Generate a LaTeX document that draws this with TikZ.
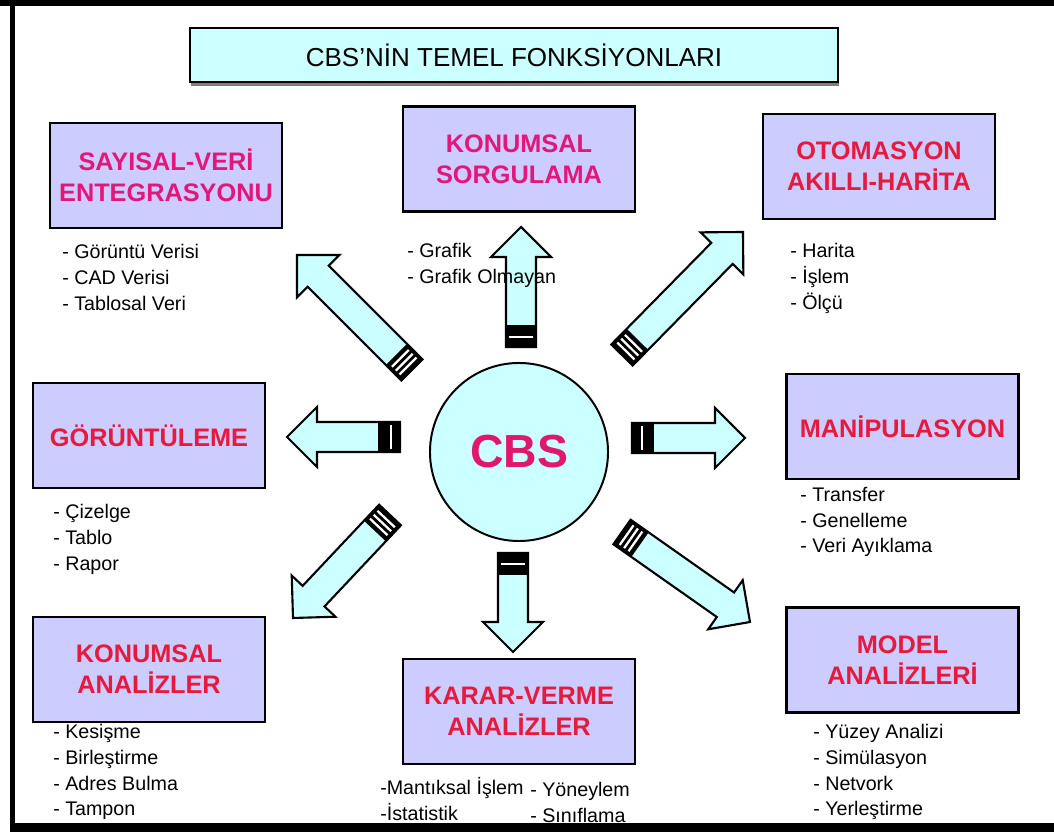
\documentclass[tikz,border=0pt]{standalone}
\usepackage{fontspec}
\setmainfont{Liberation Sans}
\usetikzlibrary{calc,shadows}
\definecolor{lilac}{HTML}{CCCCFF}
\definecolor{ice}{HTML}{CCFFFF}
\definecolor{magred}{HTML}{E3167A}
\definecolor{crimson}{HTML}{E6193F}
\definecolor{cbspink}{HTML}{E0186C}

% block arrow from tail #1 to tip #2, stripes of the cap at #3 (cm from tail)
\newcommand{\fatarrow}[3]{%
  \coordinate (#2-b) at ($(#2)!0.75cm!(#1)$);
  \coordinate (#1-s) at ($(#1)!0.55cm!(#2)$);
  \draw[arrowbody] ($(#1)!0.375cm!90:(#2)$) -- ($(#2-b)!0.375cm!90:(#2)$) -- ($(#2-b)!0.75cm!90:(#2)$) -- (#2)
    -- ($(#2-b)!0.75cm!-90:(#2)$) -- ($(#2-b)!0.375cm!-90:(#2)$) -- ($(#1)!0.375cm!-90:(#2)$) -- cycle;
  \fill ($(#1)!0.375cm!90:(#2)$) -- ($(#1-s)!0.375cm!90:(#2)$) -- ($(#1-s)!0.375cm!-90:(#2)$) -- ($(#1)!0.375cm!-90:(#2)$) -- cycle;
  \foreach \d in {#3}{%
    \coordinate (#1-w) at ($(#1)!\d cm!(#2)$);
    \draw[white,line width=1.6pt] ($(#1-w)!0.3cm!90:(#2)$) -- ($(#1-w)!0.3cm!-90:(#2)$);
  }%
}

\begin{document}
\begin{tikzpicture}[x=0.025cm,y=0.025cm,
  funcbox/.style={draw,line width=2pt,fill=lilac,minimum width=5.8cm,minimum height=2.62cm,align=center,font=\fontsize{18}{22}\selectfont\bfseries,text=crimson},
  itemlist/.style={anchor=north west,inner sep=0pt,align=left,font=\fontsize{14}{18.3}\selectfont,execute at begin node=\strut},
  arrowbody/.style={draw,line width=1.5pt,fill=ice,line join=miter}]
  \useasboundingbox (0,0) rectangle (1054,836);
  % frame
  \fill (0,830) rectangle (1054,836);
  \fill (10,4) rectangle (15,836);
  \fill (10,4) rectangle (1054,13);

  \node[draw,line width=1.5pt,fill=ice,minimum width=16.2cm,minimum height=1.35cm,font=\fontsize{18.5}{22}\selectfont,
        drop shadow={shadow xshift=0.6pt,shadow yshift=-2.6pt,fill=black}] (title) at (514,781) {CBS’NİN TEMEL FONKSİYONLARI};

  \node[draw,line width=1.4pt,fill=ice,circle,minimum size=4.45cm,text=cbspink,font=\fontsize{33}{36}\selectfont\bfseries] (cbs) at (519,384) {CBS};

  \node[funcbox,text=magred] (say) at (166,660.5) {SAYISAL-VERİ\\ENTEGRASYONU};
  \node[funcbox,text=magred] (sorg) at (519,677) {KONUMSAL\\SORGULAMA};
  \node[funcbox] (oto) at (879,669.5) {OTOMASYON\\AKILLI-HARİTA};
  \node[funcbox] (gor) at (149,400.5) {GÖRÜNTÜLEME};
  \node[funcbox] (man) at (902.5,409.5) {MANİPULASYON};
  \node[funcbox] (kon) at (149,166.5) {KONUMSAL\\ANALİZLER};
  \node[funcbox] (kar) at (519,124.5) {KARAR-VERME\\ANALİZLER};
  \node[funcbox] (mod) at (902.5,176) {MODEL\\ANALİZLERİ};

  % arrows out of CBS
  \coordinate (tUp) at (521,489);   \coordinate (hUp) at (521,609);
  \coordinate (tDown) at (513,283); \coordinate (hDown) at (513,184);
  \coordinate (tLeft) at (400,399); \coordinate (hLeft) at (287,399);
  \coordinate (tRight) at (632,398);\coordinate (hRight) at (745,398);
  \coordinate (tNW) at (412,466);   \coordinate (hNW) at (297,581);
  \coordinate (tNE) at (622,481);   \coordinate (hNE) at (743,604);
  \coordinate (tSW) at (390,321);   \coordinate (hSW) at (293,218);
  \coordinate (tSE) at (622,304);   \coordinate (hSE) at (750,214);
  \fatarrow{tUp}{hUp}{0.25}
  \fatarrow{tDown}{hDown}{0.28}
  \fatarrow{tLeft}{hLeft}{0.23}
  \fatarrow{tRight}{hRight}{0.25}
  \fatarrow{tNW}{hNW}{0.14,0.275,0.41}
  \fatarrow{tNE}{hNE}{0.14,0.275,0.41}
  \fatarrow{tSW}{hSW}{0.14,0.275,0.41}
  \fatarrow{tSE}{hSE}{0.14,0.275,0.41}

  \node[itemlist] (lsay) at (62,592) {- Görüntü Verisi\\- CAD Verisi\\- Tablosal Veri};
  \node[itemlist] (lsorg) at (407,593) {- Grafik\\- Grafik Olmayan};
  \node[itemlist] (loto) at (790,593) {- Harita\\- İşlem\\- Ölçü};
  \node[itemlist] (lgor) at (53,332) {- Çizelge\\- Tablo\\- Rapor};
  \node[itemlist] (lman) at (800,349) {- Transfer\\- Genelleme\\- Veri Ayıklama};
  \node[itemlist] (lkon) at (53,112) {- Kesişme\\- Birleştirme\\- Adres Bulma\\- Tampon};
  \node[itemlist] (lkar) at (380,59) {-Mantıksal İşlem\\-İstatistik};
  \node[itemlist] (lkarb) at (530,54) {- Yöneylem\\- Sınıflama};
  \node[itemlist] (lmod) at (813,112) {- Yüzey Analizi\\- Simülasyon\\- Netvork\\- Yerleştirme};
\end{tikzpicture}
\end{document}
